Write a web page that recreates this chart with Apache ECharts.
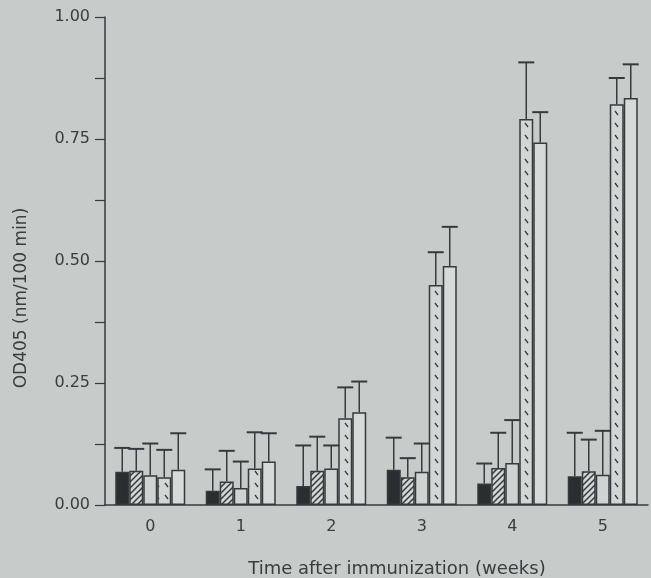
<!DOCTYPE html>
<html>
<head>
<meta charset="utf-8">
<script src="https://cdn.jsdelivr.net/npm/echarts@6/dist/echarts.min.js"></script>
<style>
  html, body { margin: 0; padding: 0; background: #c6ccca; }
  #chart { width: 651px; height: 578px; }
</style>
</head>
<body>
<div id="chart"></div>
<script>
var weeks = ['0', '1', '2', '3', '4', '5'];

// mean OD405 per group, five groups per week
var groupA = [0.068, 0.029, 0.039, 0.072, 0.044, 0.059];
var groupB = [0.070, 0.048, 0.070, 0.057, 0.076, 0.069];
var groupC = [0.061, 0.035, 0.075, 0.068, 0.086, 0.062];
var groupD = [0.057, 0.075, 0.178, 0.451, 0.791, 0.821];
var groupE = [0.072, 0.089, 0.190, 0.490, 0.743, 0.834];

// upper error (SD)
var errA = [0.049, 0.044, 0.083, 0.066, 0.041, 0.089];
var errB = [0.045, 0.063, 0.070, 0.039, 0.072, 0.065];
var errC = [0.065, 0.054, 0.047, 0.058, 0.088, 0.090];
var errD = [0.056, 0.074, 0.063, 0.067, 0.116, 0.054];
var errE = [0.075, 0.058, 0.063, 0.080, 0.062, 0.069];

var yTicks = [0, 0.25, 0.5, 0.75, 1];

var ink = '#363a3e';
var paper = '#d2d7d5';

function hatchTile() {
  var c = document.createElement('canvas');
  c.width = 6; c.height = 6;
  var g = c.getContext('2d');
  g.fillStyle = paper; g.fillRect(0, 0, 6, 6);
  g.strokeStyle = ink; g.lineWidth = 1.5;
  g.beginPath();
  g.moveTo(-1, 7); g.lineTo(7, -1);
  g.moveTo(-1, 1); g.lineTo(1, -1);
  g.moveTo(5, 7); g.lineTo(7, 5);
  g.stroke();
  return c;
}

function dashTile() {
  var c = document.createElement('canvas');
  c.width = 9; c.height = 12;
  var g = c.getContext('2d');
  g.fillStyle = paper; g.fillRect(0, 0, 9, 12);
  g.strokeStyle = ink; g.lineWidth = 1.3;
  g.beginPath();
  g.moveTo(3, 3); g.lineTo(6, 7);
  g.stroke();
  return c;
}

var fills = [
  '#2b2e31',
  { image: hatchTile(), repeat: 'repeat' },
  '#cfd4d2',
  { image: dashTile(), repeat: 'repeat' },
  '#d6dbd9'
];
var means = [groupA, groupB, groupC, groupD, groupE];
var errs = [errA, errB, errC, errD, errE];
var barW = 14;

var series = [];
means.forEach(function(m, k) {
  series.push({
    type: 'bar',
    data: m,
    barWidth: barW,
    barGap: '0%',
    itemStyle: { color: fills[k], borderColor: ink, borderWidth: 1.5 },
    z: 2
  });
});
means.forEach(function(m, k) {
  series.push({
    type: 'custom',
    data: m.map(function(v, i) { return [i, v, v + errs[k][i]]; }),
    renderItem: function(params, api) {
      var lo = api.coord([api.value(0), api.value(1)]);
      var hi = api.coord([api.value(0), api.value(2)]);
      var x = lo[0] + (k - 2) * barW;
      return {
        type: 'group',
        children: [
          { type: 'line', shape: { x1: x, y1: lo[1], x2: x, y2: hi[1] }, style: { stroke: ink, lineWidth: 1.5 } },
          { type: 'line', shape: { x1: x - 8, y1: hi[1], x2: x + 8, y2: hi[1] }, style: { stroke: ink, lineWidth: 2 } }
        ]
      };
    },
    z: 3
  });
});

var chart = echarts.init(document.getElementById('chart'));
chart.setOption({
  animation: false,
  backgroundColor: '#c6ccca',
  textStyle: { fontFamily: 'DejaVu Sans' },
  grid: { left: 105, right: 3, top: 17, bottom: 73 },
  xAxis: {
    type: 'category',
    data: weeks,
    axisLine: { lineStyle: { color: ink, width: 1.5 } },
    axisTick: { length: 4, lineStyle: { color: ink, width: 1.2 } },
    axisLabel: { color: '#3a3d40', fontSize: 16, margin: 14 }
  },
  yAxis: {
    type: 'value',
    min: yTicks[0],
    max: yTicks[yTicks.length - 1],
    interval: 0.25,
    axisLine: { show: true, lineStyle: { color: ink, width: 1.5 } },
    axisTick: { show: true, length: 10, lineStyle: { color: ink, width: 1.2 } },
    minorTick: { show: true, splitNumber: 2, length: 10, lineStyle: { color: ink, width: 1.2 } },
    splitLine: { show: false },
    axisLabel: {
      color: '#3a3d40', fontSize: 16, margin: 15,
      formatter: function(v) { return v.toFixed(2); }
    }
  },
  graphic: [
    {
      type: 'text', x: 22, y: 298, rotation: Math.PI / 2,
      style: { text: 'OD405 (nm/100 min)', fill: '#3a3d40', font: '17px "DejaVu Sans"', align: 'center', verticalAlign: 'middle' }
    },
    {
      type: 'text', x: 397, y: 569,
      style: { text: 'Time after immunization (weeks)', fill: '#3a3d40', font: '18px "DejaVu Sans"', align: 'center', verticalAlign: 'middle' }
    }
  ],
  series: series
});
</script>
</body>
</html>
